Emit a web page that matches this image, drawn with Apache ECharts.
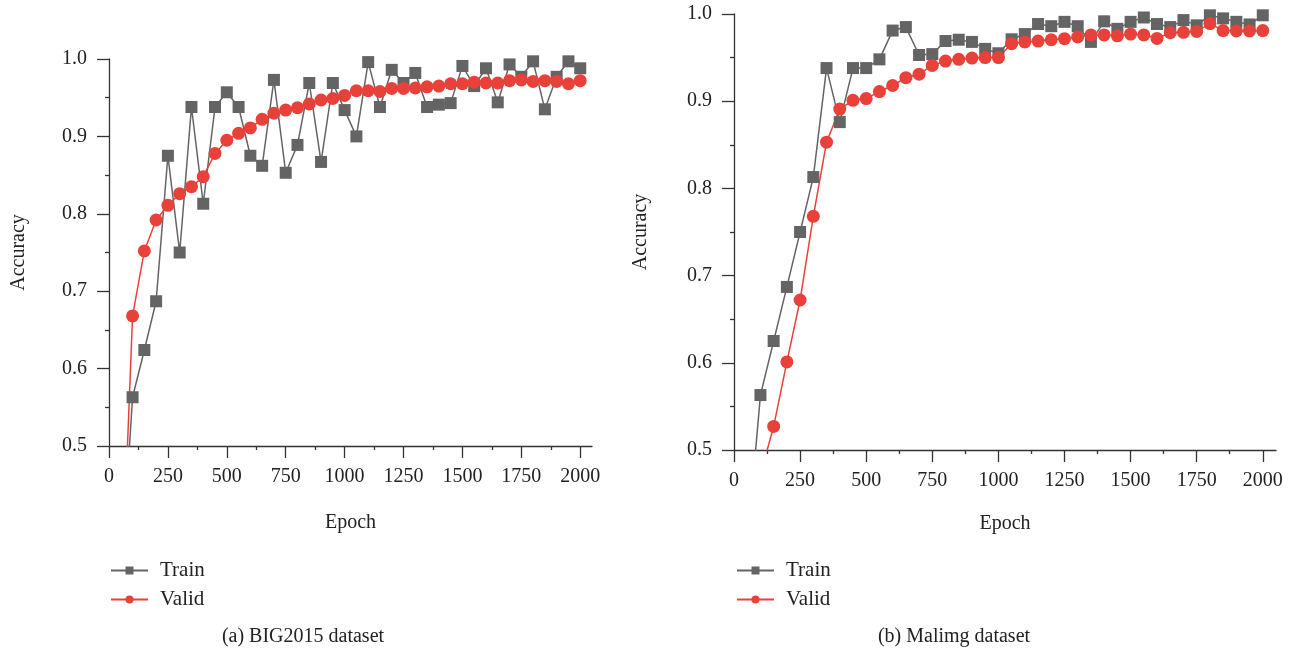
<!DOCTYPE html>
<html>
<head>
<meta charset="utf-8">
<script src="https://cdn.jsdelivr.net/npm/echarts@6/dist/echarts.min.js"></script>
<style>
  html, body { margin: 0; padding: 0; background: #fff; }
  #chart { width: 1303px; height: 652px; }
</style>
</head>
<body>
<div id="chart"></div>
<script>
// epochs (50 lies below the visible range and gets clipped)
const epochs = [50, 100, 150, 200, 250, 300, 350, 400, 450, 500, 550, 600, 650, 700, 750, 800, 850, 900, 950, 1000,
  1050, 1100, 1150, 1200, 1250, 1300, 1350, 1400, 1450, 1500, 1550, 1600, 1650, 1700, 1750, 1800, 1850, 1900, 1950, 2000]

const bigTrain = [0.32, 0.563, 0.624, 0.687, 0.875, 0.750, 0.938, 0.813, 0.938, 0.957, 0.938, 0.875, 0.862, 0.973, 0.853, 0.889,
  0.969, 0.867, 0.969, 0.934, 0.900, 0.996, 0.938, 0.986, 0.969, 0.982, 0.938, 0.941, 0.943, 0.991, 0.965, 0.988,
  0.944, 0.993, 0.977, 0.997, 0.935, 0.977, 0.997, 0.988]
const bigValid = [0.28, 0.668, 0.752, 0.792, 0.811, 0.826, 0.835, 0.848, 0.878, 0.895, 0.904, 0.911, 0.922, 0.930, 0.934, 0.937,
  0.942, 0.947, 0.949, 0.953, 0.959, 0.959, 0.958, 0.962, 0.962, 0.9625, 0.964, 0.965, 0.968, 0.968, 0.970, 0.969,
  0.969, 0.972, 0.973, 0.971, 0.972, 0.971, 0.968, 0.972]

const malTrain = [0.39, 0.563, 0.625, 0.687, 0.750, 0.813, 0.938, 0.876, 0.938, 0.938, 0.948, 0.981, 0.985, 0.953, 0.954, 0.969,
  0.9705, 0.968, 0.960, 0.955, 0.971, 0.977, 0.9885, 0.986, 0.991, 0.986, 0.968, 0.9916, 0.983, 0.991, 0.996, 0.9885,
  0.985, 0.993, 0.987, 0.9985, 0.995, 0.991, 0.988, 0.9985]
const malValid = [null, 0.472, 0.527, 0.601, 0.672, 0.768, 0.853, 0.891, 0.901, 0.903, 0.911, 0.918, 0.927, 0.931, 0.941, 0.946,
  0.948, 0.9495, 0.950, 0.950, 0.966, 0.968, 0.969, 0.9705, 0.9717, 0.9736, 0.976, 0.976, 0.975, 0.977, 0.976, 0.972,
  0.9785, 0.979, 0.980, 0.989, 0.981, 0.9805, 0.9805, 0.981]

const xTicks = [0, 250, 500, 750, 1000, 1250, 1500, 1750, 2000]
const xMinorTicks = [125, 375, 625, 875, 1125, 1375, 1625, 1875]
const captions = ['(a) BIG2015 dataset', '(b) Malimg dataset']

const FONT = '"Liberation Serif", "DejaVu Serif", serif'
const AXIS_COLOR = '#333'
const TEXT_COLOR = '#222'
const TRAIN_COLOR = '#646464'
const VALID_COLOR = '#e8413a'

const grids = [
  { left: 109, top: 59, width: 483, height: 387 },
  { left: 734, top: 14, width: 542, height: 436 }
]

function pairs(ys) {
  return epochs.map((x, i) => [x, ys[i]])
}

function mainX(gi, gap) {
  return {
    type: 'value', gridIndex: gi, position: 'bottom',
    min: 0, max: 2050,
    name: 'Epoch', nameLocation: 'middle', nameGap: gap,
    nameTextStyle: { fontFamily: FONT, fontSize: 20, color: TEXT_COLOR },
    axisLine: { lineStyle: { color: AXIS_COLOR, width: 1.3 } },
    axisTick: { customValues: xTicks, length: 12, lineStyle: { color: AXIS_COLOR, width: 1.3 } },
    axisLabel: {
      customValues: xTicks, margin: 21, fontFamily: FONT, fontSize: 20, color: TEXT_COLOR,
      formatter: v => String(v)
    },
    splitLine: { show: false }
  }
}

function minorX(gi) {
  return {
    type: 'value', gridIndex: gi, position: 'bottom',
    min: 0, max: 2050,
    axisLine: { show: false },
    axisTick: { customValues: xMinorTicks, length: 4, lineStyle: { color: AXIS_COLOR, width: 1.3 } },
    axisLabel: { show: false },
    splitLine: { show: false }
  }
}

function yAx(gi, gap) {
  return {
    type: 'value', gridIndex: gi,
    min: 0.5, max: 1.0, interval: 0.1,
    name: 'Accuracy', nameLocation: 'middle', nameGap: gap, nameRotate: 90,
    nameTextStyle: { fontFamily: FONT, fontSize: 20, color: TEXT_COLOR },
    axisLine: { show: true, lineStyle: { color: AXIS_COLOR, width: 1.3 } },
    axisTick: { show: true, length: 12, lineStyle: { color: AXIS_COLOR, width: 1.3 } },
    minorTick: { show: true, splitNumber: 2, length: 4, lineStyle: { color: AXIS_COLOR, width: 1.3 } },
    axisLabel: {
      margin: 22, fontFamily: FONT, fontSize: 20, color: TEXT_COLOR,
      formatter: v => v.toFixed(1)
    },
    splitLine: { show: false },
    minorSplitLine: { show: false }
  }
}

function trainSeries(gi, ys) {
  return {
    name: 'Train', type: 'line', xAxisIndex: gi * 2, yAxisIndex: gi,
    data: pairs(ys), clip: true,
    symbol: 'rect', symbolSize: 12, showAllSymbol: true,
    lineStyle: { color: TRAIN_COLOR, width: 1.5 },
    itemStyle: { color: TRAIN_COLOR },
    animation: false
  }
}

function validSeries(gi, ys) {
  return {
    name: 'Valid', type: 'line', xAxisIndex: gi * 2, yAxisIndex: gi,
    data: pairs(ys), clip: true,
    symbol: 'circle', symbolSize: 13, showAllSymbol: true,
    lineStyle: { color: VALID_COLOR, width: 1.5 },
    itemStyle: { color: VALID_COLOR },
    animation: false
  }
}

function legend(left) {
  return {
    orient: 'vertical', left: left, top: 555,
    data: ['Train', 'Valid'],
    itemWidth: 37, itemHeight: 10, itemGap: 8,
    selectedMode: false,
    textStyle: { fontFamily: FONT, fontSize: 21, color: TEXT_COLOR, padding: [0, 0, 0, 7] }
  }
}

const chart = echarts.init(document.getElementById('chart'), null, { renderer: 'canvas' })
chart.setOption({
  backgroundColor: '#fff',
  animation: false,
  grid: grids,
  xAxis: [mainX(0, 67), minorX(0), mainX(1, 64), minorX(1)],
  yAxis: [yAx(0, 80), yAx(1, 83)],
  legend: [legend(105), legend(731)],
  series: [
    trainSeries(0, bigTrain), validSeries(0, bigValid),
    trainSeries(1, malTrain), validSeries(1, malValid)
  ],
  graphic: [
    { type: 'text', x: 303, y: 637, style: { text: captions[0], font: '20px ' + FONT, fill: TEXT_COLOR, textAlign: 'center', textVerticalAlign: 'middle' } },
    { type: 'text', x: 954, y: 637, style: { text: captions[1], font: '20px ' + FONT, fill: TEXT_COLOR, textAlign: 'center', textVerticalAlign: 'middle' } }
  ]
})
</script>
</body>
</html>
